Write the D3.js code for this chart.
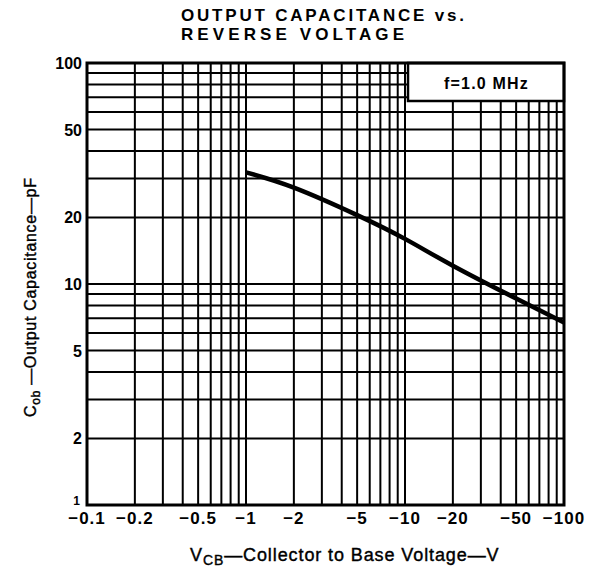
<!DOCTYPE html>
<html>
<head>
<meta charset="utf-8">
<script src="https://cdn.jsdelivr.net/npm/d3@7"></script>
<style>
  body { margin: 0; background: #fff; }
  text { font-family: "Liberation Sans", Arial, sans-serif; fill: #000; }
</style>
</head>
<body>
<div id="chart"></div>
<script>
// curve (magnitude of V_CB in volts, C_ob in pF)
const voltage = [1, 2, 5, 10, 20, 50, 100];
const capacitance = [32, 27.3, 20.5, 16, 12.1, 8.6, 6.7];

const xTickValues = [0.1, 0.2, 0.5, 1, 2, 5, 10, 20, 50, 100];
const xTickLabels = ["\u22120.1", "\u22120.2", "\u22120.5", "\u22121", "\u22122", "\u22125", "\u221210", "\u221220", "\u221250", "\u2212100"];
const yTickValues = [1, 2, 5, 10, 20, 50, 100];
const yTickLabels = ["1", "2", "5", "10", "20", "50", "100"];

const note = "f=1.0 MHz";

// Dimensions
const margin = { top: 63, right: 34, bottom: 70, left: 87 },
      width = 598 - margin.left - margin.right,
      height = 575 - margin.top - margin.bottom;

const svg = d3.select("#chart")
  .append("svg")
  .attr("width", 598)
  .attr("height", 575);

const g = svg.append("g")
  .attr("transform", `translate(${margin.left},${margin.top})`);

const x = d3.scaleLog().domain([0.1, 100]).range([0, width]);
const y = d3.scaleLog().domain([1, 100]).range([height, 0]);

// Grid (1..9 in each decade)
g.append("g")
  .selectAll("line")
  .data(x.ticks())
  .enter()
  .append("line")
  .attr("x1", d => x(d)).attr("x2", d => x(d))
  .attr("y1", 0).attr("y2", height)
  .attr("stroke", "#000")
  .attr("stroke-width", 2);

g.append("g")
  .selectAll("line")
  .data(y.ticks())
  .enter()
  .append("line")
  .attr("x1", 0).attr("x2", width)
  .attr("y1", d => y(d)).attr("y2", d => y(d))
  .attr("stroke", "#000")
  .attr("stroke-width", 2);

// Note box in the upper right corner
g.append("rect")
  .attr("x", x(10) + 3)
  .attr("y", 0)
  .attr("width", width - x(10) - 3)
  .attr("height", 38)
  .attr("fill", "#fff")
  .attr("stroke", "#000")
  .attr("stroke-width", 2.5);

g.append("text")
  .attr("x", (x(10) + width) / 2 + 2)
  .attr("y", 26)
  .attr("text-anchor", "middle")
  .style("font-size", "16px")
  .style("font-weight", "bold")
  .style("letter-spacing", "1.2px")
  .text(note);

// Curve
const pts = voltage.map((v, i) => [v, capacitance[i]]);
g.append("path")
  .datum(pts)
  .attr("fill", "none")
  .attr("stroke", "#000")
  .attr("stroke-width", 4.5)
  .attr("d", d3.line()
    .x(d => x(d[0]))
    .y(d => y(d[1]))
    .curve(d3.curveNatural));

// Frame
g.append("rect")
  .attr("width", width)
  .attr("height", height)
  .attr("fill", "none")
  .attr("stroke", "#000")
  .attr("stroke-width", 3);

// Tick labels
g.append("g")
  .selectAll("text")
  .data(xTickValues)
  .enter()
  .append("text")
  .attr("x", d => x(d))
  .attr("y", height + 19)
  .attr("text-anchor", "middle")
  .style("font-size", "17px")
  .style("font-weight", "bold")
  .style("letter-spacing", "1px")
  .text((d, i) => xTickLabels[i]);

g.append("g")
  .selectAll("text")
  .data(yTickValues)
  .enter()
  .append("text")
  .attr("x", d => d === 1 ? -7 : -5)
  .attr("y", d => y(d) + (d === 1 ? 0 : 6))
  .attr("text-anchor", "end")
  .style("font-size", d => d === 1 ? "12px" : "16px")
  .style("font-weight", "bold")
  .text((d, i) => yTickLabels[i]);

// Title
const title = svg.append("g")
  .style("font-size", "17px")
  .style("font-weight", "bold");
title.append("text").attr("x", 181).attr("y", 21)
  .attr("textLength", 283).attr("lengthAdjust", "spacing")
  .text("OUTPUT CAPACITANCE vs.");
title.append("text").attr("x", 181).attr("y", 40)
  .attr("textLength", 223).attr("lengthAdjust", "spacing")
  .text("REVERSE VOLTAGE");

// Axis labels
const xl = svg.append("text")
  .attr("x", 190)
  .attr("y", 561)
  .style("font-size", "18px")
  .style("letter-spacing", "0.9px")
  .style("stroke", "#000")
  .style("stroke-width", 0.4);
xl.append("tspan").text("V");
xl.append("tspan").attr("dy", 4).style("font-size", "14px").text("CB");
xl.append("tspan").attr("dy", -4).text("\u2014Collector to Base Voltage\u2014V");

const yl = svg.append("text")
  .attr("transform", "translate(36,417) rotate(-90)")
  .style("font-size", "16px")
  .style("letter-spacing", "0.7px")
  .style("stroke", "#000")
  .style("stroke-width", 0.4);
yl.append("tspan").text("C");
yl.append("tspan").attr("dy", 4).style("font-size", "12px").text("ob");
yl.append("tspan").attr("dy", -4).text(" \u2014Output Capacitance\u2014pF");
</script>
</body>
</html>
